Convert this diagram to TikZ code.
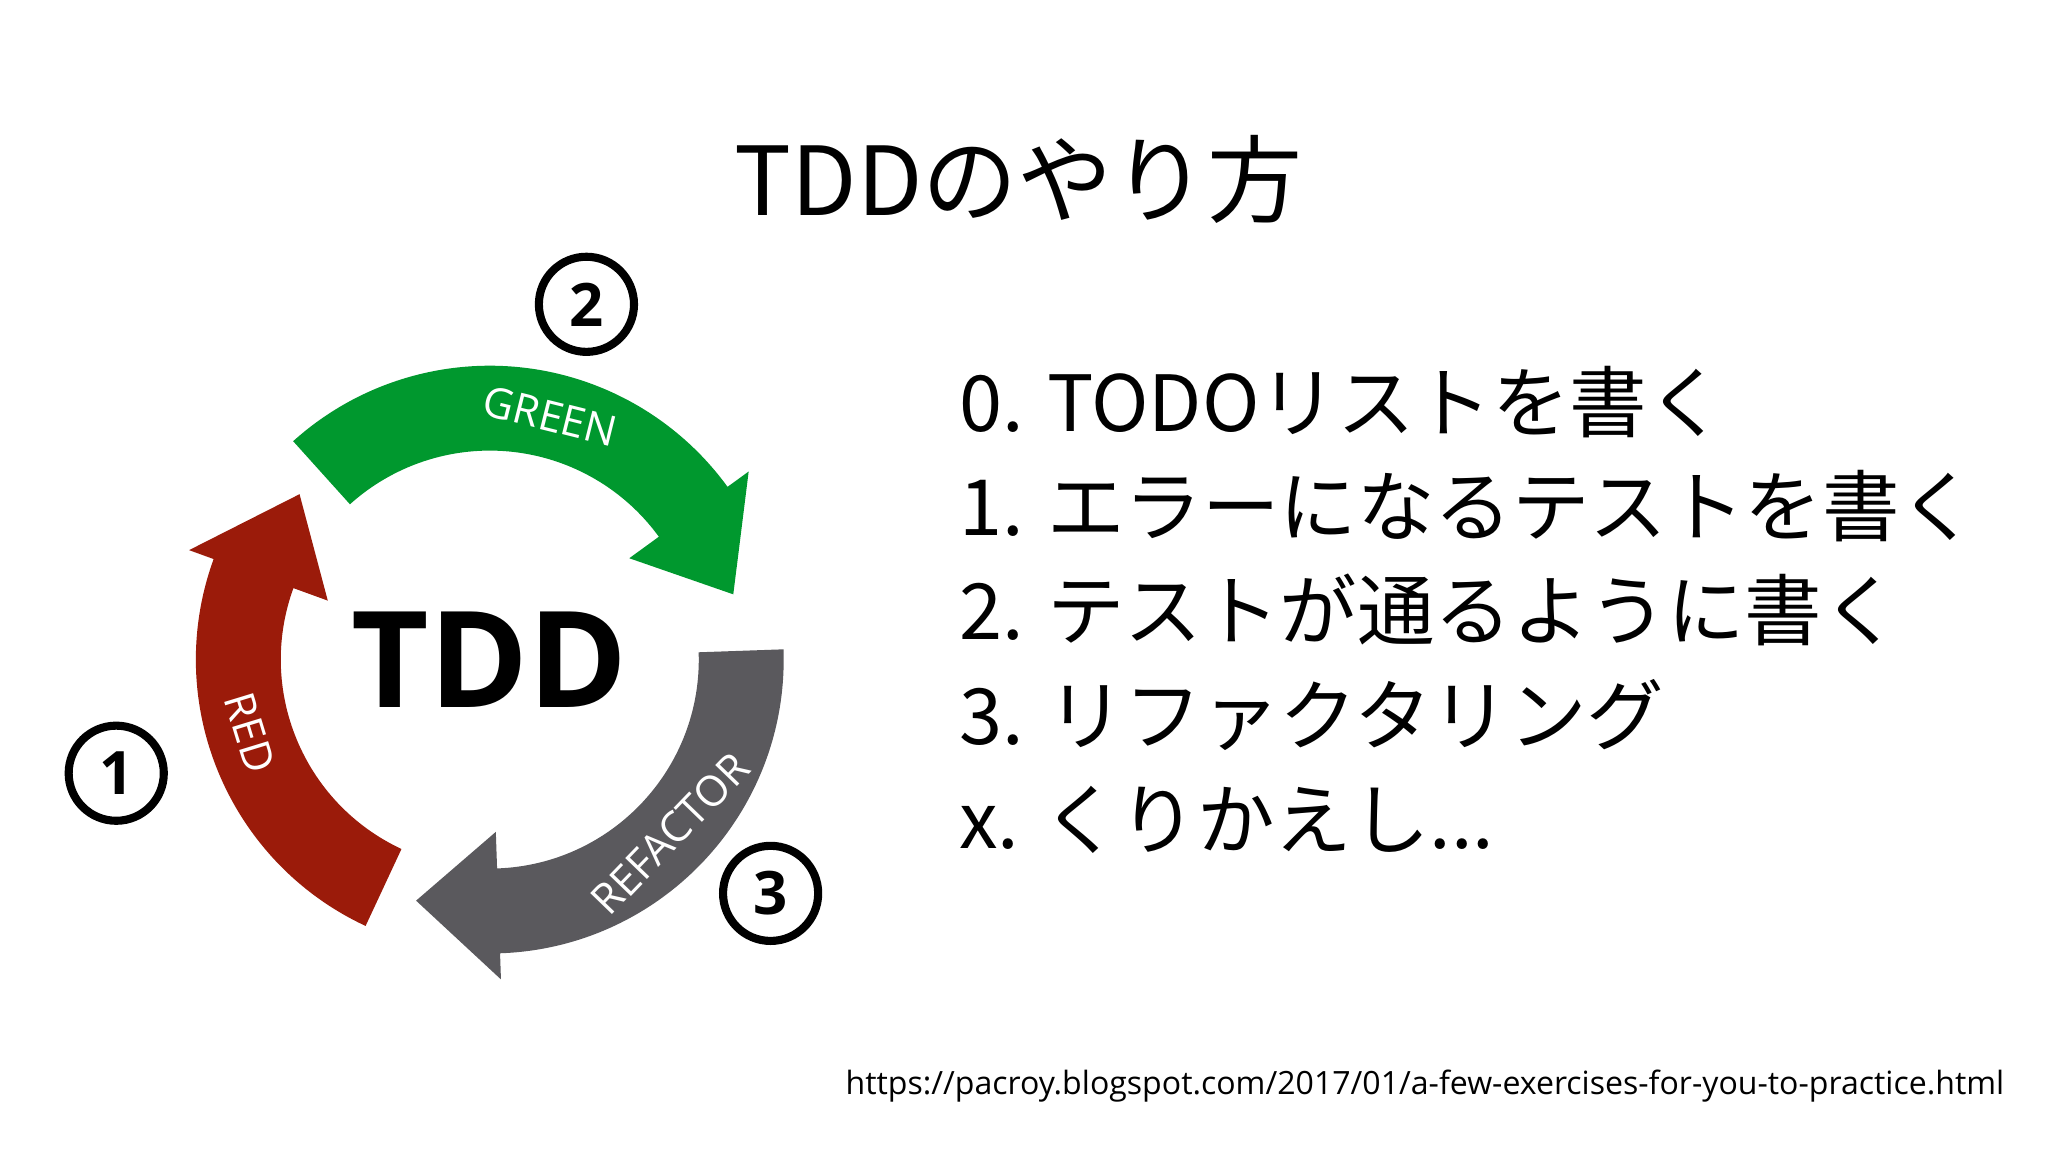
\documentclass[tikz,border=0pt]{standalone}
\usepackage{fontspec}
\setmainfont{Open Sans}
\newfontfamily\jp{Noto Sans CJK JP}
\definecolor{tgreen}{RGB}{0,152,46}
\definecolor{tred}{RGB}{155,27,10}
\definecolor{tgray}{RGB}{90,89,93}
\newcommand{\cyclearrow}[4]{% color, start, end, tip
  \fill[#1] (#2:225) arc[start angle=#2,end angle=#3,radius=225] -- (#3:245) -- (#4:193) -- (#3:132) -- (#3:160) arc[start angle=#3,end angle=#2,radius=160] -- cycle;}
\begin{document}
\begin{tikzpicture}[x=0.3707pt,y=0.3707pt,
  circ/.style={circle,draw=black,line width=2.3pt,minimum size=27pt,inner sep=0pt,font=\fontsize{17}{17}\selectfont\bfseries},
  arclbl/.style={text=white,font=\fontsize{12}{12}\selectfont},
  item/.style={anchor=base west,font=\jp\fontsize{22}{22}\selectfont}]
\useasboundingbox (-375,505) rectangle (1193,-377);
\fill[white] (-375,505) rectangle (1193,-377);
\cyclearrow{tgreen}{132}{36}{15}
\cyclearrow{tgray}{2}{-88}{-107}
\cyclearrow{tred}{-115}{-200}{-221}
\node[arclbl,rotate=-14] (g) at (76:192) {GREEN};
\node[arclbl,rotate=-73] (r) at (197:192) {RED};
\node[arclbl,rotate=46] (f) at (-44:192) {REFACTOR};
\node[font=\fontsize{38}{38}\selectfont\bfseries] (tdd) at (0,0) {TDD};
\node[circ] (c2) at (74,272) {2};
\node[circ] (c1) at (-286,-87) {1};
\node[circ] (c3) at (215,-179) {3};
\node[font=\jp\fontsize{27}{27}\selectfont] (title) at (405,368) {TDDのやり方};
\node[item] (l0) at (350,175) {0. TODOリストを書く};
\node[item] (l1) at (350,95) {1. エラーになるテストを書く};
\node[item] (l2) at (350,15) {2. テストが通るように書く};
\node[item] (l3) at (350,-65) {3. リファクタリング};
\node[item] (lx) at (350,-145) {x. くりかえし...};
\node[anchor=base east,inner sep=0pt,font=\fontsize{9.1}{9.5}\selectfont] (url) at (1160,-333) {https://pacroy.blogspot.com/2017/01/a-few-exercises-for-you-to-practice.html};
\end{tikzpicture}
\end{document}
